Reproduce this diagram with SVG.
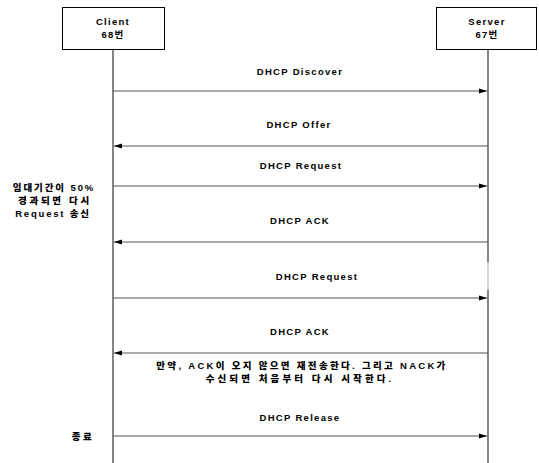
<svg xmlns="http://www.w3.org/2000/svg" width="539" height="463" viewBox="0 0 539 463">
<defs>
<marker id="ah" markerWidth="8" markerHeight="6" refX="8" refY="3" orient="auto" markerUnits="userSpaceOnUse">
<path d="M0,0.5 L8,3 L0,5.5 Z" fill="#000"/>
</marker>
<style>
.t{font-family:"Liberation Sans","Noto Sans CJK KR",Arial,sans-serif;font-size:9.5px;font-weight:bold;letter-spacing:1.3px;fill:#000;text-anchor:middle;dominant-baseline:central}
.k{font-weight:900}
.box{fill:#fff;stroke:#000;stroke-width:1}
.life{stroke:#333;stroke-width:1.2}
.msg{stroke:#555;stroke-width:1.2;fill:none;marker-end:url(#ah)}
</style>
</defs>
<rect width="539" height="463" fill="#fff"/>
<g id="lifelines">
<line class="life" x1="113" y1="49" x2="113" y2="463"/>
<line class="life" x1="488" y1="49" x2="488" y2="262"/>
<line x1="488" y1="262" x2="488" y2="290" stroke="#aaa" stroke-width="1"/>
<line class="life" x1="488" y1="290" x2="488" y2="463"/>
</g>
<g id="client">
<rect class="box" x="62.5" y="7.5" width="102" height="42"/>
<text class="t" x="113" y="21">Client</text>
<text class="t" x="113" y="34">68번</text>
</g>
<g id="server">
<rect class="box" x="436.5" y="7.5" width="100" height="42"/>
<text class="t" x="487" y="21">Server</text>
<text class="t" x="487" y="34">67번</text>
</g>
<g id="connectors">
<line class="msg" x1="113" y1="91" x2="487" y2="91"/>
<line class="msg" x1="488" y1="146" x2="114" y2="146"/>
<line class="msg" x1="113" y1="186" x2="487" y2="186"/>
<line class="msg" x1="488" y1="242" x2="114" y2="242"/>
<line class="msg" x1="113" y1="298" x2="487" y2="298"/>
<line class="msg" x1="488" y1="353" x2="114" y2="353"/>
<line class="msg" x1="113" y1="436" x2="487" y2="436"/>
</g>
<g id="labels">
<text class="t" x="300" y="71">DHCP Discover</text>
<text class="t" x="299" y="124">DHCP Offer</text>
<text class="t" x="301" y="165">DHCP Request</text>
<text class="t" x="300" y="220">DHCP ACK</text>
<text class="t" x="317" y="276">DHCP Request</text>
<text class="t" x="300" y="331">DHCP ACK</text>
<text class="t k" x="302" y="365" style="letter-spacing:2.3px">만약, ACK이 오지 않으면 재전송한다. 그리고 NACK가</text>
<text class="t k" x="300" y="378" style="letter-spacing:3.1px">수신되면 처음부터 다시 시작한다.</text>
<text class="t" x="300" y="417">DHCP Release</text>
</g>
<g id="notes">
<text class="t k" x="54" y="187" style="letter-spacing:1.9px">임대기간이 50%</text>
<text class="t k" x="55" y="200" style="letter-spacing:2.7px">경과되면 다시</text>
<text class="t k" x="53" y="213" style="letter-spacing:1.8px">Request 송신</text>
<text class="t k" x="83" y="436" style="letter-spacing:2.5px">종료</text>
</g>
</svg>
